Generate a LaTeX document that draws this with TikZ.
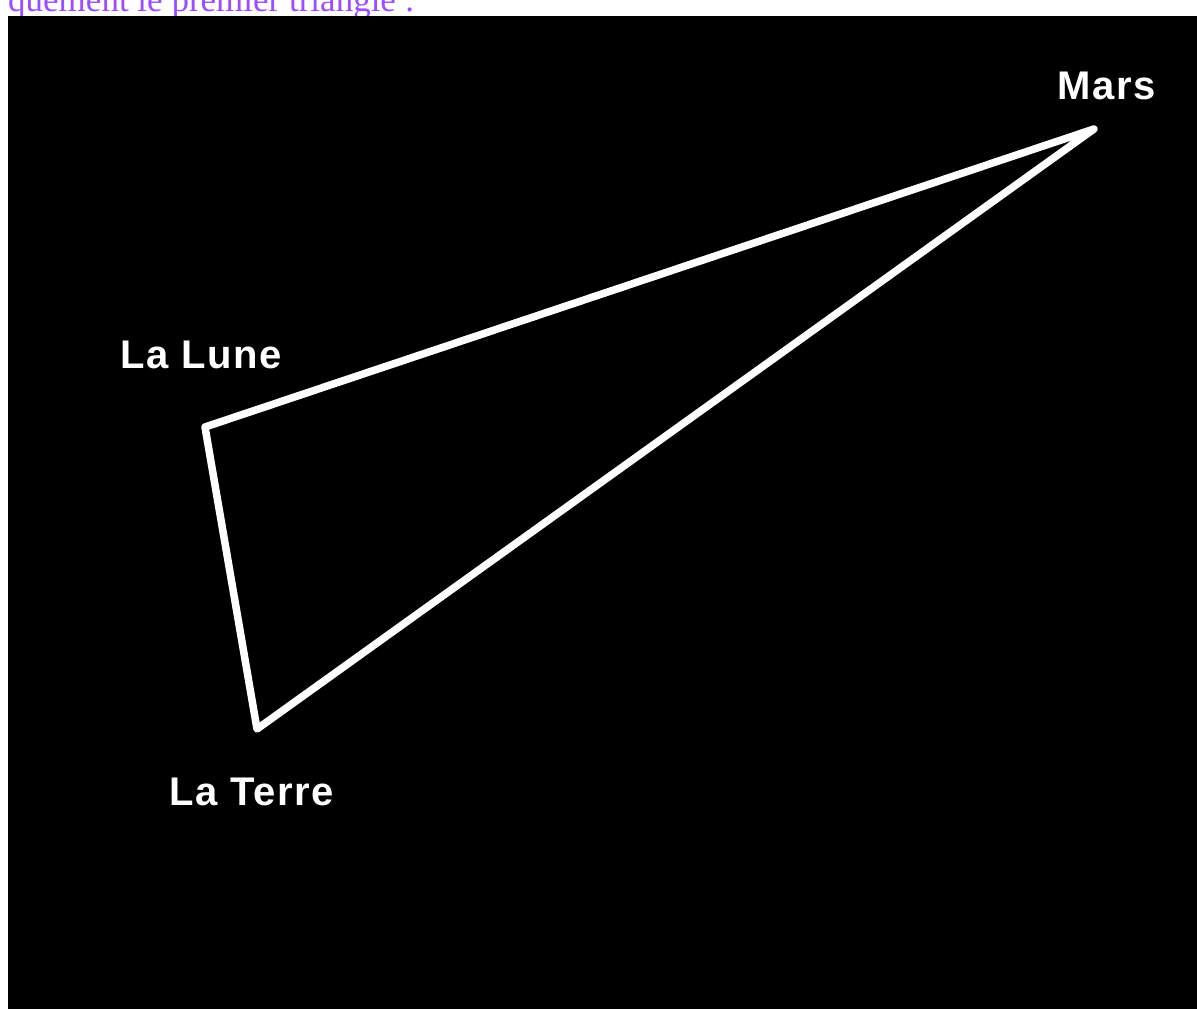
\documentclass[tikz,border=0pt]{standalone}
\usepackage{fontspec}
\setmainfont{Liberation Serif}
\newfontfamily\labelfont[LetterSpace=4]{Liberation Sans}
\usepackage{xcolor}
\usepackage{tikz}
\definecolor{tri-purple}{RGB}{155, 77, 255}
\definecolor{tri-white}{RGB}{255, 255, 255}

\tikzset{
    planet/.style={text=tri-white, font=\labelfont\bfseries\fontsize{40}{40}\selectfont, anchor=base, inner sep=0pt},
    side/.style={draw=tri-white, line width=7.5pt, line join=round, line cap=round}
}

\begin{document}
\begin{tikzpicture}[x=1pt, y=-1pt]
    \useasboundingbox (0,0) rectangle (1197,1009);
    \begin{scope}
        \clip (0,0) rectangle (1197,1009);
        \node[text=tri-purple, font=\fontsize{35}{35}\selectfont, anchor=base west, inner sep=0pt] (caption) at (8,11) {quement le premier triangle :};
        \fill[black] (8,16) rectangle (1197,1009);
    \end{scope}

    \coordinate (mars) at (1094,129);
    \coordinate (lune) at (205,427);
    \coordinate (terre) at (257,729);

    \node[planet] (mars-label) at (1107,99) {Mars};
    \node[planet] (lune-label) at (201,368) {La Lune};
    \node[planet] (terre-label) at (252,805) {La Terre};

    \draw[side] (lune) -- (mars) -- (terre) -- cycle;
\end{tikzpicture}
\end{document}
